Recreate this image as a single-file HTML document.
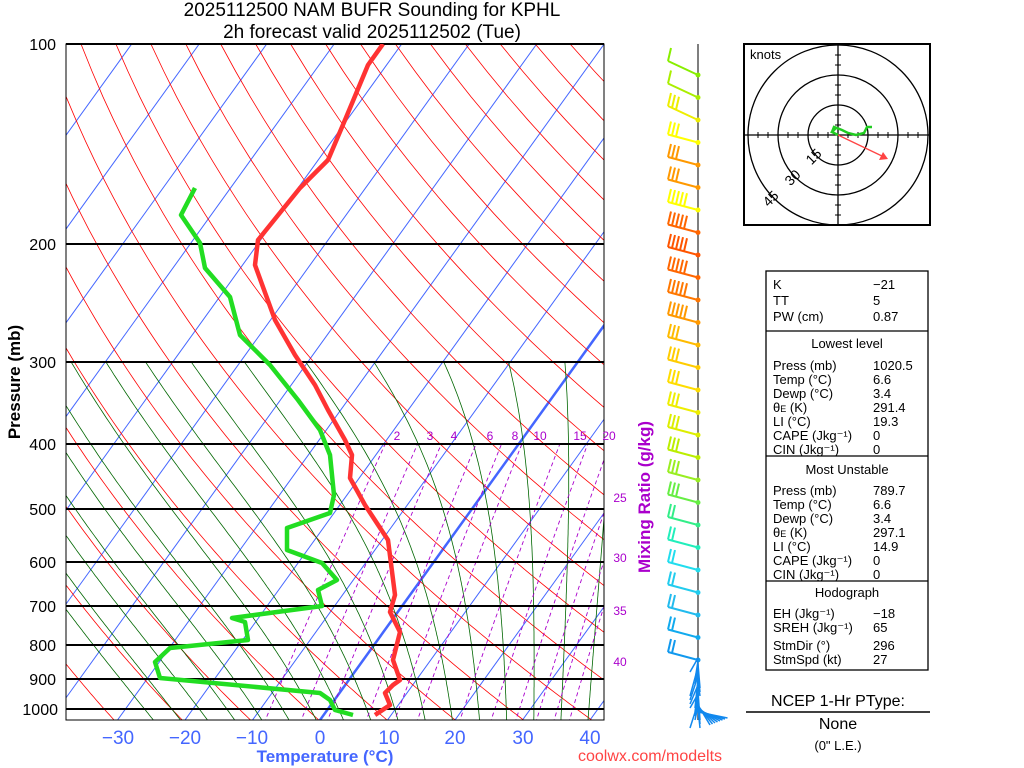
<!DOCTYPE html>
<html><head><meta charset="utf-8"><style>
body{margin:0;background:#fff;width:1024px;height:768px;overflow:hidden}
svg{display:block}
text{font-family:"Liberation Sans",sans-serif}
</style></head><body>
<svg id="s" width="1024" height="768" xmlns="http://www.w3.org/2000/svg">
<defs><clipPath id="c"><rect x="66" y="44" width="538" height="676"/></clipPath></defs>
<g id="bg" clip-path="url(#c)"></g>
<g id="iso" stroke="#000" stroke-width="2">
<line x1="66" y1="44" x2="604" y2="44"/><line x1="66" y1="244" x2="604" y2="244"/>
<line x1="66" y1="362" x2="604" y2="362"/><line x1="66" y1="444" x2="604" y2="444"/>
<line x1="66" y1="509" x2="604" y2="509"/><line x1="66" y1="562" x2="604" y2="562"/>
<line x1="66" y1="606" x2="604" y2="606"/><line x1="66" y1="645" x2="604" y2="645"/>
<line x1="66" y1="679" x2="604" y2="679"/><line x1="66" y1="709" x2="604" y2="709"/>
</g>
<rect x="66" y="44" width="538" height="676" fill="none" stroke="#000" stroke-width="1"/>
<g clip-path="url(#c)">
<polyline fill="none" stroke="#f33" stroke-width="4.5" stroke-linejoin="round" points="375,715 390,705 385,693 393,685 400,680 393,660 400,632 390,612 395,595 388,540 365,505 350,478 352,455 345,440 328,410 315,385 295,355 275,320 255,265 258,240 300,188 328,160 345,120 368,65 383,44"/>
<polyline fill="none" stroke="#2d2" stroke-width="4.5" stroke-linejoin="round" points="353,715 335,710 330,700 320,693 160,678 155,662 170,648 248,640 245,622 232,618 322,606 318,590 337,580 322,563 287,550 287,528 330,513 334,495 330,455 320,430 298,400 270,365 240,335 230,297 205,268 200,243 181,215 195,188"/>
</g>
<g font-size="16" text-anchor="end" fill="#000">
<text x="56" y="50">100</text><text x="56" y="250">200</text><text x="56" y="368">300</text><text x="56" y="450">400</text><text x="56" y="515">500</text><text x="56" y="568">600</text><text x="56" y="612">700</text><text x="56" y="651">800</text><text x="56" y="685">900</text><text x="58" y="715">1000</text>
</g>
<text x="20" y="382" font-size="17" font-weight="bold" transform="rotate(-90 20 382)" text-anchor="middle">Pressure (mb)</text>
<g font-size="19" fill="#46f" text-anchor="middle">
<text x="118" y="744">−30</text><text x="185" y="744">−20</text><text x="252" y="744">−10</text><text x="320" y="744">0</text><text x="389" y="744">10</text><text x="455" y="744">20</text><text x="523" y="744">30</text><text x="590" y="744">40</text>
</g>
<text x="325" y="762" font-size="17" font-weight="bold" fill="#46f" text-anchor="middle">Temperature (°C)</text>
<text x="372" y="16" font-size="19" text-anchor="middle">2025112500 NAM BUFR Sounding for KPHL</text>
<text x="372" y="38" font-size="19" text-anchor="middle">2h forecast valid 2025112502 (Tue)</text>
<g font-size="12" fill="#a0c" text-anchor="middle">
<text x="397" y="440">2</text><text x="430" y="440">3</text><text x="454" y="440">4</text><text x="490" y="440">6</text><text x="515" y="440">8</text><text x="540" y="440">10</text><text x="580" y="440">15</text><text x="609" y="440">20</text>
<text x="620" y="502">25</text><text x="620" y="562">30</text><text x="620" y="615">35</text><text x="620" y="666">40</text>
</g>
<text x="650" y="497" font-size="17" font-weight="bold" fill="#a0c" transform="rotate(-90 650 497)" text-anchor="middle">Mixing Ratio (g/kg)</text>
<line x1="698" y1="44" x2="698" y2="720" stroke="#555" stroke-width="1.5"/>
<g id="barbs"></g>
<rect x="744" y="44" width="186" height="181" fill="none" stroke="#000" stroke-width="2"/>
<g fill="none" stroke="#000" stroke-width="1.3">
<circle cx="838" cy="135" r="30"/><circle cx="838" cy="135" r="60"/><circle cx="838" cy="135" r="90"/>
<line x1="744" y1="135" x2="930" y2="135"/><line x1="838" y1="44" x2="838" y2="225"/>
</g>
<g id="hticks" stroke="#000"></g>
<text x="750" y="59" font-size="13">knots</text>
<g font-size="14" text-anchor="middle">
<text x="817" y="160" transform="rotate(-45 817 160)">15</text><text x="796" y="181" transform="rotate(-45 796 181)">30</text><text x="774" y="202" transform="rotate(-45 774 202)">45</text>
</g>
<polyline points="832,132 834,127 842,130 848,133 856,135 864,133 867,127 872,127" fill="none" stroke="#2c2" stroke-width="2.5"/>
<polyline points="836,128 832,132 838,135" fill="none" stroke="#2c2" stroke-width="2.5"/>
<line x1="838" y1="135" x2="884" y2="157" stroke="#f44" stroke-width="1.3"/>
<polygon points="888,159 879,160 883,152" fill="#f44"/>
<rect x="766" y="271" width="162" height="399" fill="none" stroke="#000" stroke-width="1.3"/>
<g stroke="#000" stroke-width="1.3"><line x1="766" y1="331" x2="928" y2="331"/><line x1="766" y1="456" x2="928" y2="456"/><line x1="766" y1="581" x2="928" y2="581"/></g>
<g font-size="13" fill="#000">
<text x="773" y="289">K</text><text x="873" y="289">−21</text>
<text x="773" y="305">TT</text><text x="873" y="305">5</text>
<text x="773" y="321">PW (cm)</text><text x="873" y="321">0.87</text>
<text x="847" y="348" text-anchor="middle">Lowest level</text>
<text x="773" y="370">Press (mb)</text><text x="873" y="370">1020.5</text>
<text x="773" y="384">Temp (°C)</text><text x="873" y="384">6.6</text>
<text x="773" y="398">Dewp (°C)</text><text x="873" y="398">3.4</text>
<text x="773" y="412">θ<tspan font-size="9">E</tspan> (K)</text><text x="873" y="412">291.4</text>
<text x="773" y="426">LI (°C)</text><text x="873" y="426">19.3</text>
<text x="773" y="440">CAPE (Jkg⁻¹)</text><text x="873" y="440">0</text>
<text x="773" y="454">CIN (Jkg⁻¹)</text><text x="873" y="454">0</text>
<text x="847" y="474" text-anchor="middle">Most Unstable</text>
<text x="773" y="495">Press (mb)</text><text x="873" y="495">789.7</text>
<text x="773" y="509">Temp (°C)</text><text x="873" y="509">6.6</text>
<text x="773" y="523">Dewp (°C)</text><text x="873" y="523">3.4</text>
<text x="773" y="537">θ<tspan font-size="9">E</tspan> (K)</text><text x="873" y="537">297.1</text>
<text x="773" y="551">LI (°C)</text><text x="873" y="551">14.9</text>
<text x="773" y="565">CAPE (Jkg⁻¹)</text><text x="873" y="565">0</text>
<text x="773" y="579">CIN (Jkg⁻¹)</text><text x="873" y="579">0</text>
<text x="847" y="597" text-anchor="middle">Hodograph</text>
<text x="773" y="618">EH (Jkg⁻¹)</text><text x="873" y="618">−18</text>
<text x="773" y="632">SREH (Jkg⁻¹)</text><text x="873" y="632">65</text>
<text x="773" y="650">StmDir (°)</text><text x="873" y="650">296</text>
<text x="773" y="664">StmSpd (kt)</text><text x="873" y="664">27</text>
</g>
<text x="838" y="706" font-size="16" text-anchor="middle">NCEP 1-Hr PType:</text>
<line x1="746" y1="712" x2="930" y2="712" stroke="#000" stroke-width="1.5"/>
<text x="838" y="729" font-size="16" text-anchor="middle">None</text>
<text x="838" y="750" font-size="13" text-anchor="middle">(0" L.E.)</text>
<text x="650" y="761" font-size="16" fill="#f44" text-anchor="middle">coolwx.com/modelts</text>
</svg>
<script>
var NS="http://www.w3.org/2000/svg";
function Y(p){return 44+288.8*Math.log(p/100);}
function X(T,p){return 320+6.75*T+(720-Y(p))*0.72;}
var bg=document.getElementById("bg");
function pl(pts,col,w,dash){var e=document.createElementNS(NS,"polyline");e.setAttribute("points",pts.map(function(a){return a[0].toFixed(1)+","+a[1].toFixed(1)}).join(" "));e.setAttribute("fill","none");e.setAttribute("stroke",col);e.setAttribute("stroke-width",w);if(dash)e.setAttribute("stroke-dasharray",dash);bg.appendChild(e);}
for(var T=-160;T<=50;T+=10){pl([[X(T,1050),Y(1050)],[X(T,100),Y(100)]],"#46f",T==0?2.5:1);}
for(var th=230;th<=560;th+=10){var a=[];for(var p=1050;p>=100;p-=10){a.push([X(th*Math.pow(p/1000,0.286)-273.15,p),Y(p)]);}pl(a,"#f00",0.8);}
function es(T){return 6.112*Math.exp(17.67*T/(T+243.5));}
for(var T0=-24;T0<=44;T0+=4){var a=[],T=T0+273.15,p=1050;var dp=-5;
 a.push([X(T-273.15,p),Y(p)]);
 while(p>300){var rs=0.622*es(T-273.15)/(p-es(T-273.15));var g=(287*T+2.5e6*rs)/(1004+2.5e6*2.5e6*rs*0.622/(287*T*T));T+=g*dp/p;p+=dp;a.push([X(T-273.15,p),Y(p)]);}
 pl(a,"#060",0.8);}
[2,3,4,6,8,10,15,20,25,30,35,40].forEach(function(w){var a=[];for(var p=1050;p>=400;p-=10){var e=w/1000*p/(0.622+w/1000);var l=Math.log(e/6.112);var T=243.5*l/(17.67-l);a.push([X(T,p),Y(p)]);}pl(a,"#a0c",0.9,"4,3");});
var ht=document.getElementById("hticks"),s="";
for(var i=-9;i<=9;i++){if(!i)continue;var d=i*10;s+='<line x1="'+(838+d)+'" y1="132" x2="'+(838+d)+'" y2="138"/><line x1="835" y1="'+(135+d)+'" x2="841" y2="'+(135+d)+'"/>';}
ht.innerHTML=s;
var cols=["#8e0","#ae0","#ee0","#ff0","#f90","#f90","#ff0","#f60","#f50","#f60","#f70","#f90","#fb0","#fc0","#fd0","#ee0","#de0","#be0","#9e2","#6e4","#3e8","#2eb","#2de","#2ce","#2be","#1ae","#19e"];
var bs="";
for(var i=0;i<cols.length;i++){var y=75+i*22.5;var c=cols[i];var n=i<2?1:(i<6?3:(i<12?5:(i<20?3:2)));
 var x0=698,x1=668,y1=y-(i<3?14:8);
 bs+='<line x1="'+x0+'" y1="'+y+'" x2="'+x1+'" y2="'+y1+'" stroke="'+c+'" stroke-width="2"/>';
 for(var k=0;k<n;k++){var bx=x1+k*4,by=y1+(y-y1)*(k*4/30);bs+='<line x1="'+bx+'" y1="'+by+'" x2="'+(bx+3)+'" y2="'+(by-13)+'" stroke="'+c+'" stroke-width="2"/>';}
 bs+='<circle cx="698" cy="'+y+'" r="2.5" fill="'+c+'"/>';}
for(var j=0;j<18;j++){var y=658+j*3;var L=14+(j%4)*5;var dx=(j%3)*5-8;bs+='<line x1="698" y1="'+y+'" x2="'+(698+dx)+'" y2="'+Math.min(y+L,728)+'" stroke="#18e" stroke-width="1.5"/>';}
for(var j=0;j<8;j++){bs+='<line x1="698" y1="'+(705+j)+'" x2="'+(710+j*2.5)+'" y2="'+(725-j)+'" stroke="#18e" stroke-width="1.5"/>';}
document.getElementById("barbs").innerHTML=bs;
</script>
</body></html>
